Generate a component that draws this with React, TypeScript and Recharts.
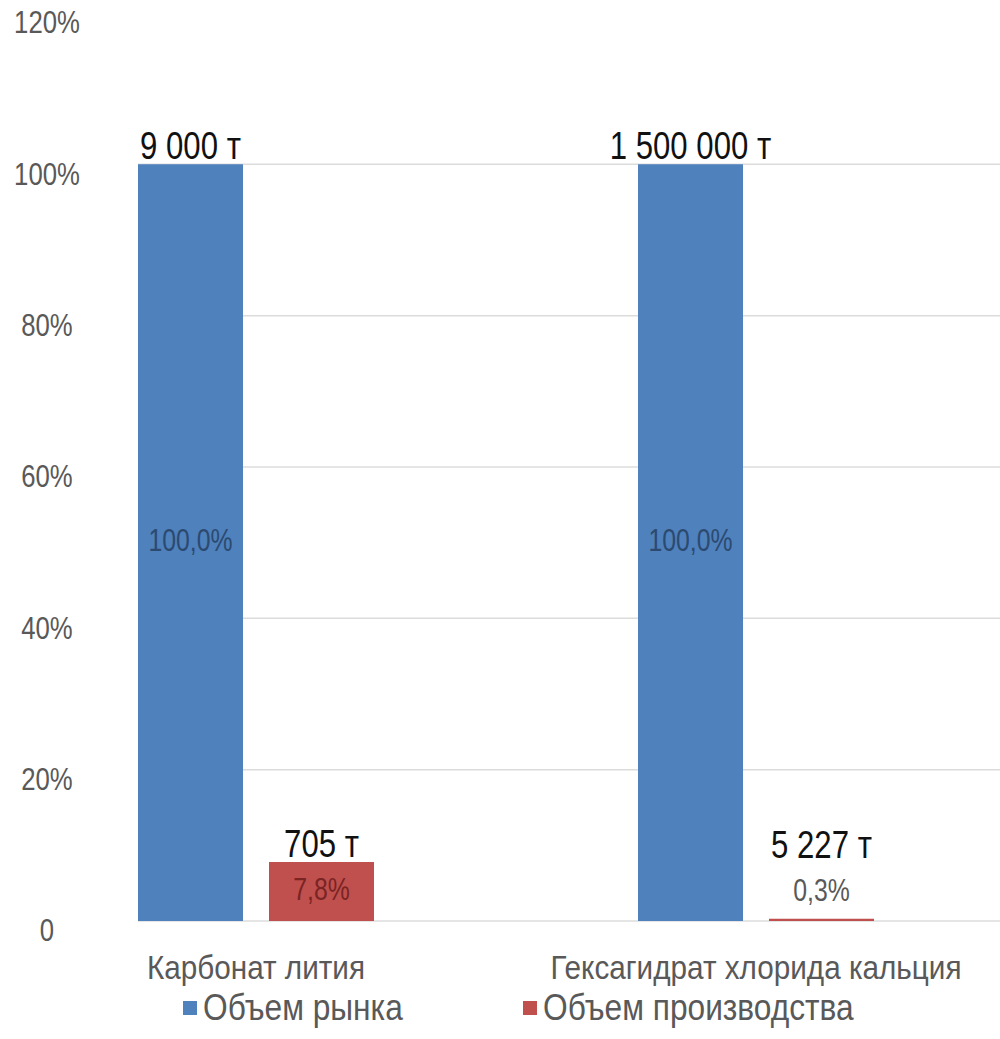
import * as React from "react";
import {
  BarChart,
  Bar,
  XAxis,
  YAxis,
  CartesianGrid,
  Legend,
  LabelList,
} from "recharts";

const categories = ["Карбонат лития", "Гексагидрат хлорида кальция"];
const marketShare = [100, 100];
const productionShare = [7.8, 0.3];
const marketTons = ["9 000 т", "1 500 000 т"];
const productionTons = ["705 т", "5 227 т"];
const yTicks = [0, 20, 40, 60, 80, 100, 120];
const gridLevels = [0, 20, 40, 60, 80, 100];

const seriesNames = ["Объем рынка", "Объем производства"];
const BLUE = "#4f81bd";
const RED = "#c0504d";
const FONT = "'Liberation Sans', Arial, sans-serif";

const data = categories.map((name, i) => ({
  name,
  market: marketShare[i],
  production: productionShare[i],
  marketTons: marketTons[i],
  productionTons: productionTons[i],
}));

const pct = (v: number) => `${v.toFixed(1).replace(".", ",")}%`;

// the source uses a narrow face, which isn't installed, so squeeze the glyphs
function Narrow({ x, y, sx, size, fill, children, middle }: any) {
  return (
    <text
      transform={`translate(${x},${y}) scale(${sx},1)`}
      textAnchor="middle"
      dominantBaseline={middle ? "middle" : "alphabetic"}
      fill={fill}
      fontSize={size}
      fontFamily={FONT}
    >
      {children}
    </text>
  );
}

function YTick(props: any) {
  const { y, payload } = props;
  const v = payload.value as number;
  return (
    <Narrow x={47} y={y + 12} sx={0.83} size={31} fill="#595959" middle>
      {v === 0 ? "0" : `${v}%`}
    </Narrow>
  );
}

function XTick(props: any) {
  const { x, y, payload } = props;
  return (
    <Narrow x={x} y={y + 50} sx={0.9} size={33} fill="#595959">
      {payload.value}
    </Narrow>
  );
}

// tonnage label on top of a bar; when the bar is too thin the percent sits above it too
function TonsLabel(props: any) {
  const { x, y, width, height, value } = props;
  const small = height < 40;
  return (
    <Narrow x={x + width / 2} y={small ? y - 61 : y - 5} sx={0.82} size={38} fill="#111">
      {value}
    </Narrow>
  );
}

function makePctLabel(color: string) {
  return function PctLabel(props: any) {
    const { x, y, width, height, value } = props;
    const small = height < 40;
    return (
      <Narrow
        x={x + width / 2}
        y={small ? y - 26 : y + height / 2}
        sx={0.8}
        size={31}
        fill={small ? "#595959" : color}
        middle
      >
        {pct(value)}
      </Narrow>
    );
  };
}

function LegendBox() {
  const items = [
    { name: seriesNames[0], color: BLUE, left: 183 },
    { name: seriesNames[1], color: RED, left: 523 },
  ];
  return (
    <div style={{ position: "relative", height: 50, fontFamily: FONT, fontSize: 36, lineHeight: "38px", color: "#595959" }}>
      {items.map((it) => (
        <div key={it.name} style={{ position: "absolute", left: it.left, top: 0, display: "flex", alignItems: "center", whiteSpace: "nowrap" }}>
          <span style={{ display: "inline-block", width: 14, height: 14, background: it.color, marginRight: 6 }} />
          <span style={{ display: "inline-block", transform: "scaleX(0.88)", transformOrigin: "left center" }}>{it.name}</span>
        </div>
      ))}
    </div>
  );
}

export default function App() {
  return (
    <div style={{ position: "absolute", left: 0, top: 0, width: 1000, height: 1039, overflow: "hidden", background: "#fff" }}>
      <BarChart
        width={1006}
        height={1039}
        data={data}
        margin={{ top: 13, right: 0, left: 0, bottom: 0 }}
        barSize={105}
        barGap={26}
      >
        <CartesianGrid vertical={false} horizontalValues={gridLevels} stroke="#dcdcdc" strokeWidth={1.5} />
        <XAxis
          dataKey="name"
          height={68}
          axisLine={false}
          tickLine={false}
          padding={{ left: -132, right: 0 }}
          tick={<XTick />}
          interval={0}
        />
        <YAxis
          width={138}
          domain={[0, 120]}
          ticks={yTicks}
          axisLine={false}
          tickLine={false}
          tick={<YTick />}
          interval={0}
        />
        <Legend verticalAlign="bottom" content={<LegendBox />} wrapperStyle={{ left: 0, width: 1006, height: 50 }} />
        <Bar dataKey="market" name={seriesNames[0]} fill={BLUE} isAnimationActive={false}>
          <LabelList dataKey="marketTons" content={<TonsLabel />} />
          <LabelList dataKey="market" content={React.createElement(makePctLabel("#2c4a70"))} />
        </Bar>
        <Bar dataKey="production" name={seriesNames[1]} fill={RED} isAnimationActive={false}>
          <LabelList dataKey="productionTons" content={<TonsLabel />} />
          <LabelList dataKey="production" content={React.createElement(makePctLabel("#7a2424"))} />
        </Bar>
      </BarChart>
    </div>
  );
}
